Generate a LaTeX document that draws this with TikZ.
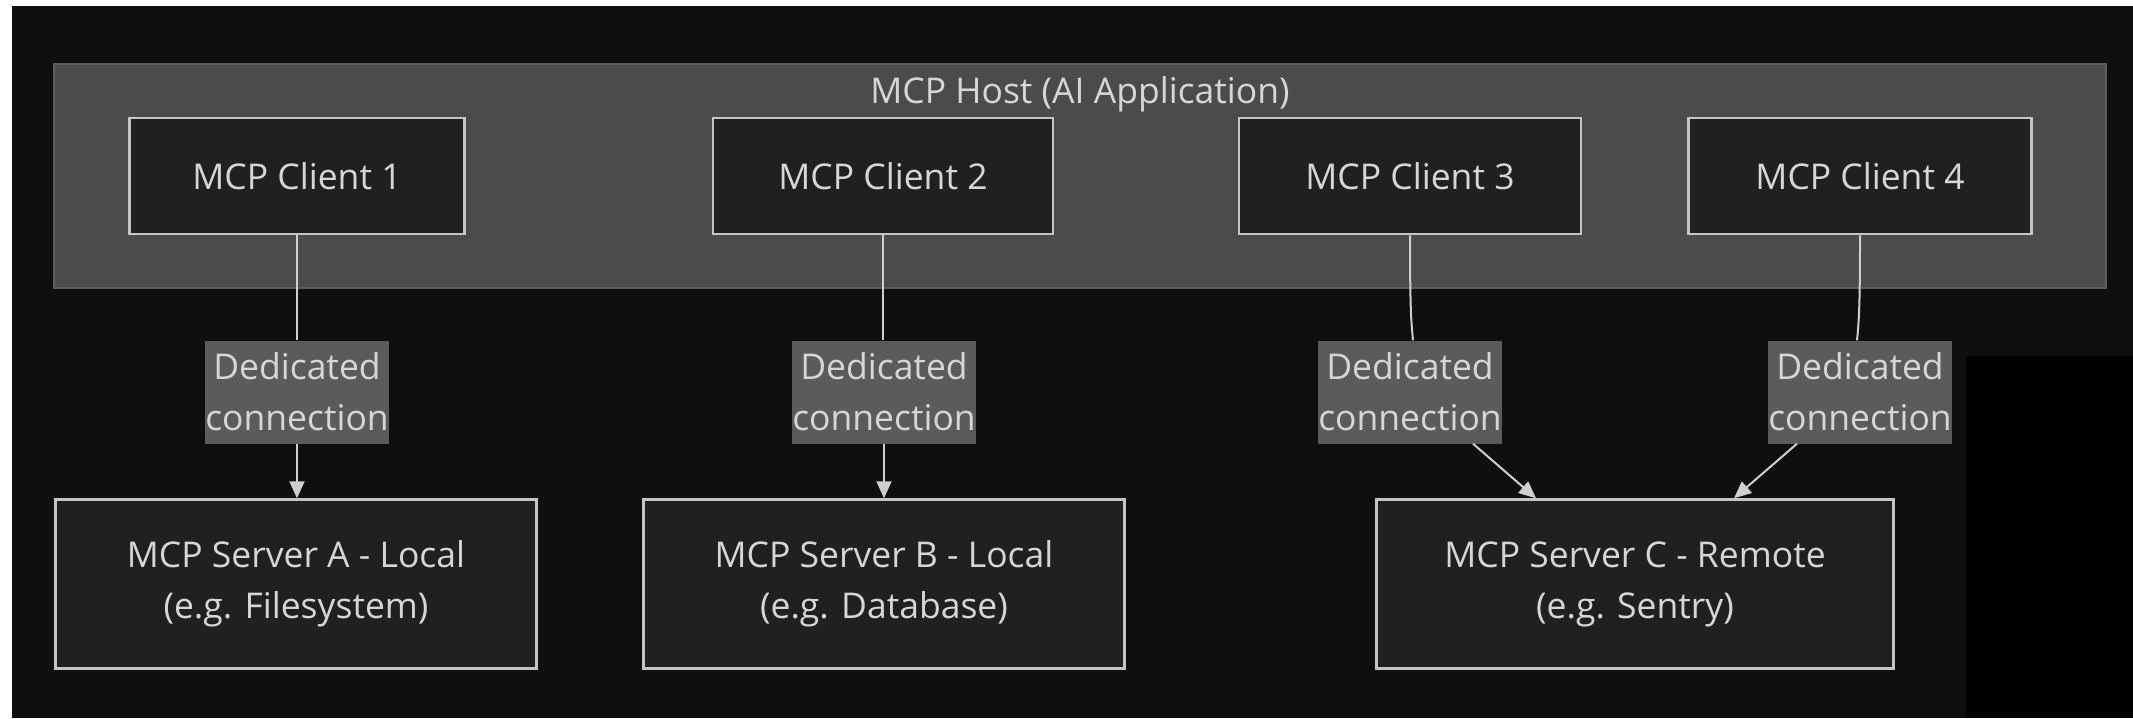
\documentclass[tikz,border=0pt]{standalone}
\usepackage{fontspec}
\setmainfont{Open Sans}
\usetikzlibrary{arrows.meta}
\definecolor{bgdark}{HTML}{0E0F11}
\definecolor{hostfill}{HTML}{4A4B4A}
\definecolor{hostline}{HTML}{5C5D5C}
\definecolor{boxfill}{HTML}{1F2020}
\definecolor{boxline}{HTML}{C4C4C4}
\definecolor{txt}{HTML}{D6D6D6}
\definecolor{lblfill}{HTML}{5B5B5B}
\definecolor{wire}{HTML}{CFCFCF}
\begin{document}
\begin{tikzpicture}[x=1pt,y=-1pt,
  base/.style={font=\fontsize{35.5}{51}\selectfont, text=txt, align=center, inner sep=0pt},
  hostbox/.style={draw=hostline, line width=2pt, fill=hostfill},
  box/.style={base, draw=boxline, line width=2.5pt, fill=boxfill},
  clientbox/.style={box, minimum height=116},
  serverbox/.style={box, minimum height=169},
  lbl/.style={base, fill=lblfill, minimum width=181, minimum height=103},
  conn/.style={draw=wire, line width=2pt},
  arr/.style={conn, -{Triangle[length=17pt,width=15pt]}}]
\useasboundingbox (0,0) rectangle (2133,718);
\fill[white] (0,0) rectangle (2133,718);
\fill[bgdark] (12,6) rectangle (2133,718);
\fill[black] (1966,356) rectangle (2133,718);

% host container
\node[hostbox, minimum width=2052, minimum height=224] (host) at (1080,176) {};
\node[base] (hosttitle) at (1080,94) {MCP Host (AI Application)};

% clients
\node[clientbox, minimum width=335] (c1) at (297,176) {MCP Client 1};
\node[clientbox, minimum width=340] (c2) at (883,176) {MCP Client 2};
\node[clientbox, minimum width=342] (c3) at (1410,176) {MCP Client 3};
\node[clientbox, minimum width=343] (c4) at (1860,176) {MCP Client 4};

% servers
\node[serverbox, minimum width=481] (sA) at (296,584) {MCP Server A - Local\\(e.g. Filesystem)};
\node[serverbox, minimum width=481] (sB) at (884,584) {MCP Server B - Local\\(e.g. Database)};
\node[serverbox, minimum width=517] (sC) at (1635,584) {MCP Server C - Remote\\(e.g. Sentry)};

% edge labels
\node[lbl] (l1) at (297,392) {Dedicated\\connection};
\node[lbl] (l2) at (884,392) {Dedicated\\connection};
\node[lbl] (l3) at (1410,392) {Dedicated\\connection};
\node[lbl] (l4) at (1860,392) {Dedicated\\connection};

% anchor points for the slanted edges into server C
\coordinate (l3in)  at ([xshift=3]l3.north);
\coordinate (l4in)  at ([xshift=-3]l4.north);
\coordinate (l3out) at ([xshift=63]l3.south);
\coordinate (l4out) at ([xshift=-63]l4.south);
\coordinate (sCin3) at ([xshift=-99]sC.north);
\coordinate (sCin4) at ([xshift=99]sC.north);

% connectors (shifts are in canvas units, so negative yshift points down)
\draw[conn] (c1.south) -- (l1.north);
\draw[arr] (l1.south) -- (l1.south |- sA.north);
\draw[conn] (c2.south) -- (c2.south |- l2.north);
\draw[arr] (l2.south) -- (l2.south |- sB.north);
\draw[conn] (c3.south) .. controls ([yshift=-70]c3.south) and ([xshift=-2,yshift=20]l3in) .. (l3in);
\draw[arr] (l3out) -- (sCin3);
\draw[conn] (c4.south) .. controls ([yshift=-70]c4.south) and ([xshift=2,yshift=20]l4in) .. (l4in);
\draw[arr] (l4out) -- (sCin4);
\end{tikzpicture}
\end{document}
